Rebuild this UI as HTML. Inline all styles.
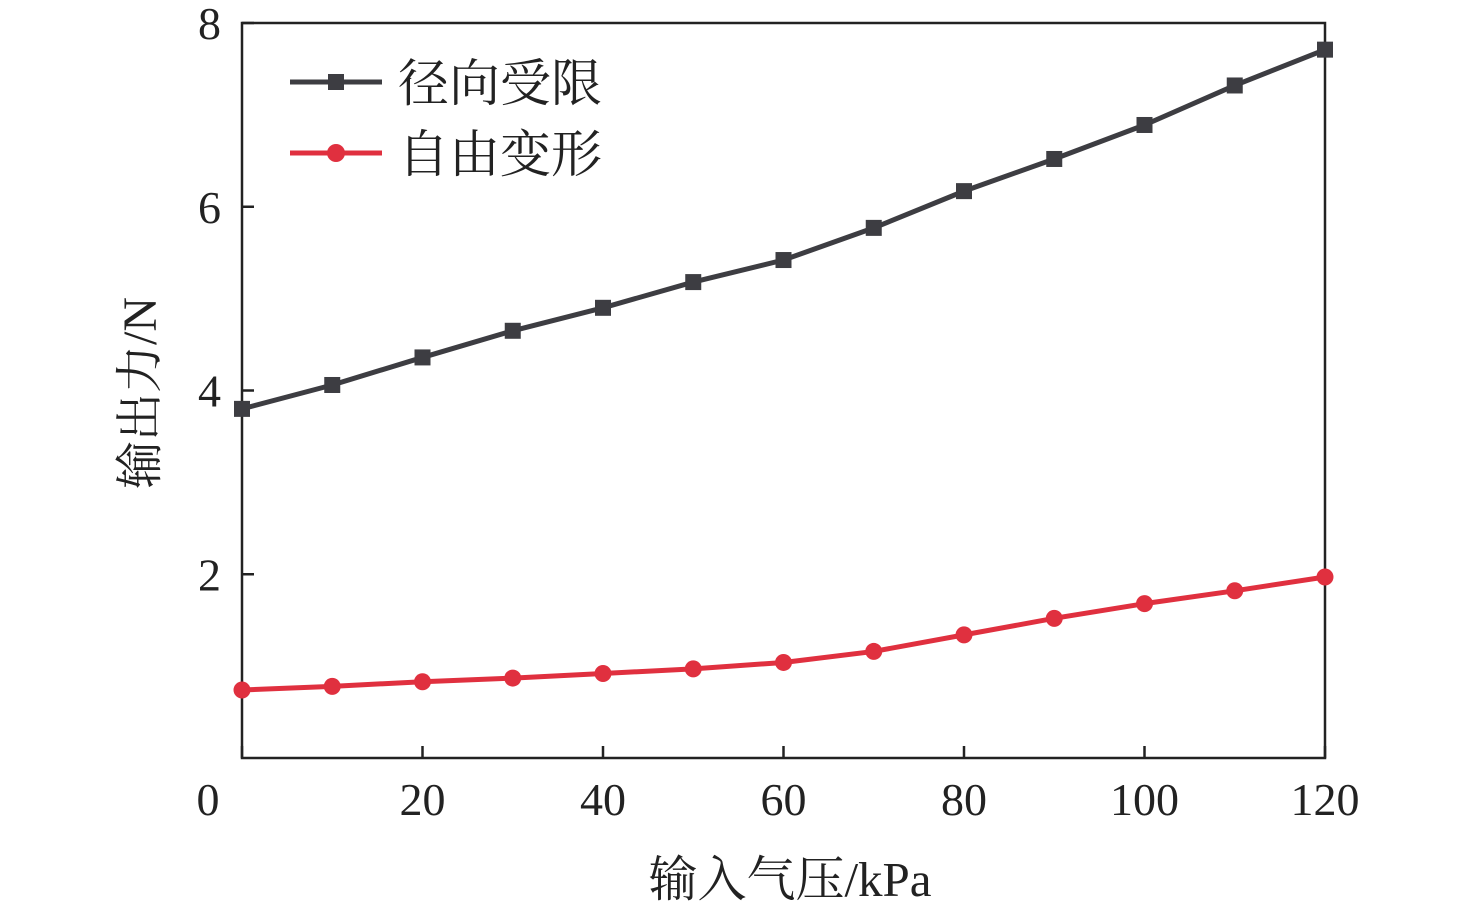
<!DOCTYPE html>
<html><head><meta charset="utf-8"><style>
body{margin:0;background:#fff;}
svg text{font-family:"Liberation Serif","Noto Serif CJK SC",serif;fill:#222;}
</style></head><body>
<svg width="1476" height="913" viewBox="0 0 1476 913" xmlns="http://www.w3.org/2000/svg">
<g id="axes"></g>
<g id="series"></g>
<g id="legend">
<line x1="290" y1="82" x2="382" y2="82" stroke="#3d3d42" stroke-width="5"/>
<rect x="328" y="74" width="16" height="16" fill="#3d3d42"/>
<text x="398" y="101" font-size="51">径向受限</text>
<line x1="290" y1="153" x2="382" y2="153" stroke="#e0303f" stroke-width="5"/>
<circle cx="336" cy="153" r="9" fill="#e0303f"/>
<text x="398" y="172" font-size="51">自由变形</text>
</g>
<text x="790" y="896" font-size="49" text-anchor="middle">输入气压/kPa</text>
<text transform="translate(156,393) rotate(-90)" font-size="48" text-anchor="middle">输出力/N</text>
</svg>
<script>
const xValues=[0,10,20,30,40,50,60,70,80,90,100,110,120];
const radialValues=[3.80,4.06,4.36,4.65,4.90,5.18,5.42,5.77,6.17,6.52,6.89,7.32,7.71];
const freeValues=[0.74,0.78,0.83,0.87,0.92,0.97,1.04,1.16,1.34,1.52,1.68,1.82,1.97];
const xTicks=[0,20,40,60,80,100,120];
const yTicks=[2,4,6,8];
const NS="http://www.w3.org/2000/svg";
const L=242,R=1325,T=23,B=758;
const xs=v=>L+(v-0)/(120-0)*(R-L);
const ys=v=>B-(v-0)/(8-0)*(B-T);
function mk(tag,attrs,parent){const e=document.createElementNS(NS,tag);for(const k in attrs)e.setAttribute(k,attrs[k]);parent.appendChild(e);return e;}
const ax=document.getElementById('axes');
const frame=mk('rect',{x:L,y:T,width:R-L,height:B-T,fill:'none',stroke:'#222','stroke-width':2.5},ax);


xTicks.forEach(t=>{
 const ln=mk('line',{x1:xs(t),x2:xs(t),y1:B,y2:B-12,stroke:'#222','stroke-width':2.5},ax);
 
 
 const tx=mk('text',{x:t===0?xs(t)-34:xs(t),y:815,'font-size':46,'text-anchor':'middle'},ax);
 tx.textContent=t;
 
 
});
yTicks.forEach(t=>{
 const ln=mk('line',{x1:L,x2:L+12,y1:ys(t),y2:ys(t),stroke:'#222','stroke-width':2.5},ax);
 
 
 const tx=mk('text',{x:221,y:ys(t)+16,'font-size':46,'text-anchor':'end'},ax);
 tx.textContent=t;
 
 
});
const sg=document.getElementById('series');
function series(vals,color,shape,name){
 const pl=mk('polyline',{points:vals.map((v,i)=>xs(xValues[i])+','+ys(v)).join(' '),fill:'none',stroke:color,'stroke-width':5},sg);
 
 
 vals.forEach((v,i)=>{
  let m;
  if(shape==='sq') m=mk('rect',{x:xs(xValues[i])-8,y:ys(v)-8,width:16,height:16,fill:color},sg);
  else m=mk('circle',{cx:xs(xValues[i]),cy:ys(v),r:8.5,fill:color},sg);
  
  
 });
}
series(radialValues,'#3d3d42','sq','radial-constrained');
series(freeValues,'#e0303f','c','free-deformation');
</script>
</body></html>
